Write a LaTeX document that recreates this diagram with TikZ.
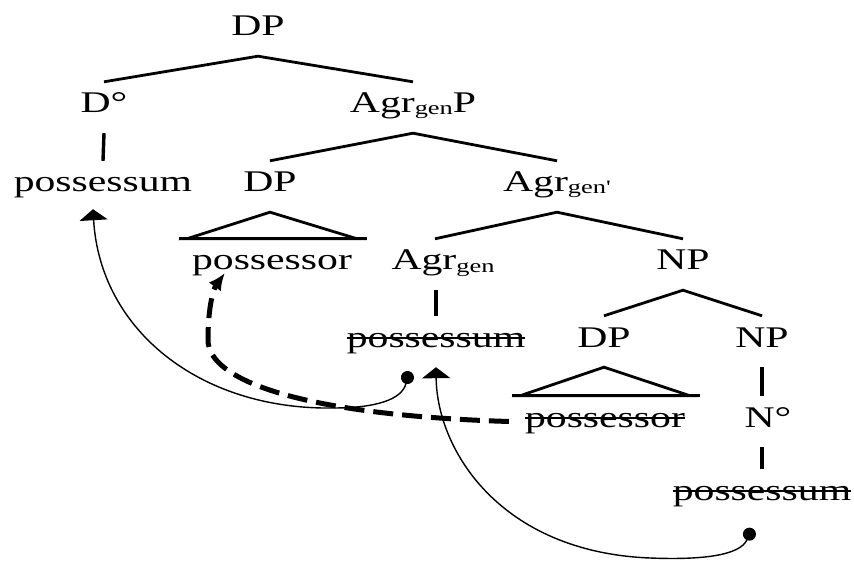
\documentclass[tikz,border=0pt]{standalone}
\usepackage{fontspec}
\setmainfont{Liberation Serif}[FakeStretch=1.39]
\newfontfamily\plainq{Liberation Serif}[FakeStretch=1.39]
\usetikzlibrary{arrows.meta}
\newcommand\subsz[1]{\raisebox{-2pt}{\fontsize{19}{19}\selectfont #1}}
\begin{document}
\begin{tikzpicture}[x=1pt,y=-1pt,
  lab/.style={font=\fontsize{30}{30}\selectfont, inner sep=0pt, text height=31pt, text depth=20pt, anchor=base},
  treeline/.style={line width=2.8pt},
  vline/.style={line width=3.4pt},
  strikeline/.style={line width=2pt},
  mvarrow/.style={line width=1.4pt, {Circle[length=13pt]}-{Triangle[width=28pt,length=11pt]}},
  dasharrow/.style={line width=5pt, dash pattern=on 20pt off 9pt, -{Latex[length=17pt,width=15pt]}}]
\useasboundingbox (0,0) rectangle (854,561);
% nodes
\node[lab] (dp1) at (258,36) {DP};
\node[lab] (d0) at (104,113) {D°};
\node[lab] (agrp) at (413,113) {Agr\subsz{gen}P};
\node[lab] (pm1) at (103,192) {possessum};
\node[lab] (dp2) at (270,192) {DP};
\node[lab] (agrb) at (557,192) {Agr\subsz{gen{\plainq'}}};
\node[lab] (ps1) at (272,270) {possessor};
\node[lab] (agr) at (443,270) {Agr\subsz{gen}};
\node[lab] (np1) at (683,270) {NP};
\node[lab] (pm2) at (436,347) {possessum};
\node[lab] (dp3) at (604,347) {DP};
\node[lab] (np2) at (762,347) {NP};
\node[lab] (ps2) at (605,427) {possessor};
\node[lab] (n0) at (768,427) {N°};
\node[lab] (pm3) at (762,500) {possessum};
% branches
\draw[treeline] (d0.north) -- (dp1.south) -- (agrp.north);
\draw[vline] (d0.south) -- (pm1.north);
\draw[treeline] (dp2.north) -- (agrp.south) -- (agrb.north);
\draw[treeline] ([xshift=-8pt]agr.north) -- (agrb.south) -- (np1.north);
\draw[vline] (pm2.north |- agr.south) -- (pm2.north);
\draw[treeline] (dp3.north) -- (np1.south) -- (np2.north);
\draw[vline] (np2.south) -- (np2.south |- n0.north);
\draw[vline] (pm3.north |- n0.south) -- (pm3.north);
% triangles
\draw[treeline] (dp2.south) -- ([xshift=-5pt]ps1.north west) -- ([xshift=5pt]ps1.north east) -- cycle;
\draw[treeline] ([xshift=-13pt]ps1.north west) -- ([xshift=15pt]ps1.north east);
\draw[treeline] (dp3.south) -- ([xshift=-5pt]ps2.north west) -- ([xshift=5pt]ps2.north east) -- cycle;
\draw[treeline] ([xshift=-13pt]ps2.north west) -- ([xshift=15pt]ps2.north east);
% strike-through
\draw[strikeline] ([yshift=9.5pt]pm2.base west) -- ([yshift=9.5pt]pm2.base east);
\draw[strikeline] ([yshift=9.5pt]ps2.base west) -- ([yshift=9.5pt]ps2.base east);
\draw[strikeline] ([yshift=9.5pt]pm3.base west) -- ([yshift=9.5pt]pm3.base east);
% movement arrows
\coordinate (dot1) at ([xshift=-27pt,yshift=-4pt]pm2.south);
\coordinate (tip1) at ([xshift=-10pt,yshift=3pt]pm1.south);
\coordinate (dot2) at ([xshift=-10pt,yshift=-8pt]pm3.south);
\coordinate (dstart) at ([xshift=-16pt]ps2.west);
\coordinate (dtip) at ([xshift=33pt,yshift=-3pt]ps1.base west);
\draw[mvarrow] (dot1) .. controls (402,400) and (375,408) .. (333,408) .. controls (200,410) and (100,330) .. (tip1);
\draw[mvarrow] (dot2) .. controls (740,556) and (700,560) .. (650,558) .. controls (500,552) and (437,450) .. (pm2.south);
\draw[dasharrow] (dstart) .. controls (300,415) and (208,380) .. (208,340) .. controls (208,305) and (214,288) .. (dtip);
\end{tikzpicture}
\end{document}
